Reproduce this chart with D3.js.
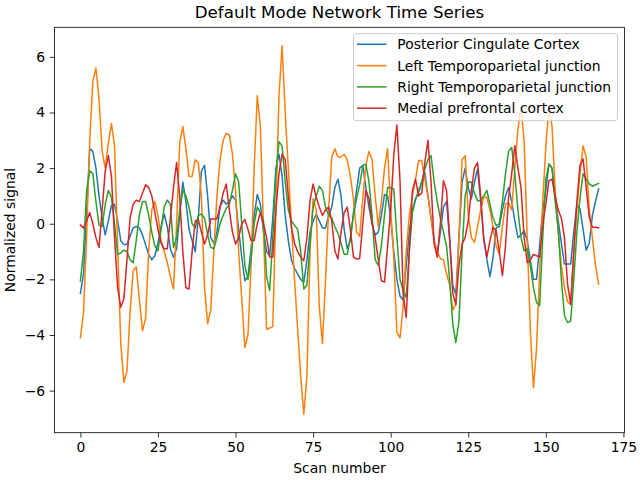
<!DOCTYPE html>
<html><head><meta charset="utf-8">
<script src="https://cdn.jsdelivr.net/npm/d3@7"></script>
<style>body{margin:0;background:#fff}svg text{font-family:"DejaVu Sans",sans-serif}</style>
</head><body><svg id="c" width="640" height="480"></svg>
<script>
const seriesNames = ["Posterior Cingulate Cortex","Left Temporoparietal junction","Right Temporoparietal junction","Medial prefrontal cortex"];
const colors = ["#1f77b4","#ff7f0e","#2ca02c","#d62728"];
const xTicks = [0,25,50,75,100,125,150,175];
const yTicks = [-6,-4,-2,0,2,4,6];
const pcc = [-2.5,-1.8,0.4,2.7,2.6,2.0,1.0,0.2,-0.4,0.1,0.65,0.7,0.1,-0.6,-0.75,-0.75,-0.45,-0.15,-0.1,-0.15,
-0.4,-0.75,-1.1,-1.3,-1.15,-0.7,-0.1,0.35,-0.1,-0.9,-1.2,-0.9,0.3,1.5,0.8,-0.2,-0.6,-1.0,0.2,1.9,
2.1,1.0,-0.5,-0.7,-0.3,0.6,0.85,0.7,0.8,1.0,0.85,-0.2,-1.2,-2.05,-1.9,-0.9,0.3,1.05,0.7,-0.3,
-1.0,-1.15,0.2,2.0,2.5,1.7,0.3,-0.6,-1.3,-1.6,-1.8,-2.0,-2.1,-1.3,-0.3,0.1,0.35,0.1,-0.15,-0.15,
0.3,0.6,1.3,1.6,1.0,-0.2,-0.9,-0.6,0.4,1.2,2.0,2.1,1.3,0.6,0.0,-0.4,-0.3,0.3,1.05,1.0,
0.2,-1.0,-2.0,-2.6,-2.75,-1.5,-0.3,0.5,0.9,1.1,1.5,1.85,1.0,0.2,-0.6,-1.1,-0.3,0.6,0.8,-0.6,
-2.2,-2.55,-0.5,1.5,2.0,1.3,0.9,1.5,1.97,0.8,-0.5,-1.3,-1.9,-1.2,-0.15,-0.1,0.5,1.0,1.3,0.8,
0.1,-0.5,-0.4,-0.25,-0.6,-1.3,-2.0,-2.0,-0.8,0.5,1.2,2.15,2.0,1.0,0.1,-0.7,-1.45,-1.45,-1.45,-0.3,
0.7,0.55,-0.2,-0.95,-0.7,0.3,0.8,1.25];
const ltpj = [-4.1,-3.2,-0.5,3.0,5.1,5.6,4.5,2.6,2.0,2.9,3.6,2.8,-0.8,-4.3,-5.7,-5.3,-3.2,-1.7,-1.55,-2.7,
-3.85,-3.4,-1.0,0.5,0.8,0.3,-0.6,-1.0,-1.4,-1.9,-2.35,0.0,2.9,3.5,2.7,1.7,1.7,2.3,2.2,1.0,
-2.3,-3.6,-3.1,-1.0,1.0,2.3,3.0,3.25,3.2,2.5,1.2,-1.0,-2.7,-4.45,-4.0,-1.5,2.0,4.6,3.5,-0.2,
-3.8,-3.75,-3.7,0.5,4.6,6.4,4.0,2.0,0.0,-2.0,-3.75,-5.5,-6.85,-5.5,-1.0,0.9,0.5,-3.0,-4.3,-2.0,
0.5,2.4,2.7,2.4,2.4,2.5,2.3,1.7,0.9,-0.3,-0.45,0.9,2.1,2.6,2.3,1.0,-0.1,0.8,2.0,2.7,
0.5,-1.2,-3.9,-4.1,-3.0,-1.0,0.3,1.0,1.6,2.27,2.27,1.6,1.0,0.2,-0.6,-1.0,-1.25,-1.3,-1.8,-2.2,
-3.1,-2.9,-0.5,2.3,2.45,0.3,-0.5,-0.67,-0.1,0.5,0.95,0.95,0.5,-0.15,-0.8,-1.1,-0.1,0.7,0.75,0.5,
2.0,3.4,4.2,3.0,-0.5,-3.8,-5.9,-4.5,-1.7,0.8,2.8,4.2,3.5,1.2,-0.3,-1.5,-2.3,-2.8,-2.9,-1.0,
0.5,1.8,2.8,2.4,0.5,-0.5,-1.5,-2.17];
const rtpj = [-2.05,-1.0,1.2,1.9,1.8,0.8,-0.05,-0.1,0.7,1.2,0.95,0.0,-1.1,-1.05,-0.95,-1.0,-1.3,-1.4,-0.6,0.3,
0.8,0.8,0.3,-0.3,-0.8,-0.97,-0.2,0.6,0.85,0.7,-0.85,-0.5,0.5,1.2,1.0,0.6,0.0,-0.15,0.3,0.35,
0.2,-0.4,-0.85,-0.9,-0.5,0.0,0.3,0.55,0.7,1.2,1.8,1.5,0.0,-1.5,-2.0,-1.3,0.0,0.6,0.4,0.1,
-1.9,-2.4,-0.5,1.8,2.95,2.8,1.5,0.5,0.1,-0.05,-0.2,-1.0,-2.35,-2.2,-0.7,0.6,1.0,1.35,1.2,0.6,
0.3,0.2,-0.1,-0.35,-0.7,-1.1,-1.1,-0.5,0.3,0.9,1.4,2.1,2.15,1.5,0.3,-1.3,-1.5,-0.8,0.3,1.3,
1.3,1.25,-0.5,-2.0,-2.4,-2.65,-1.0,0.4,0.85,1.2,1.5,1.97,2.3,2.45,1.5,0.8,0.2,-0.3,-0.8,-2.0,
-3.6,-4.27,-3.5,-1.0,1.0,1.5,1.5,1.1,0.83,0.83,1.0,1.2,0.7,0.2,-0.07,0.0,0.8,1.8,2.6,2.75,
1.8,0.5,-0.5,-0.97,-0.9,-1.5,-2.3,-2.83,-2.95,-0.5,1.6,2.15,2.0,0.8,-0.2,-2.0,-3.3,-3.55,-3.5,-2.0,
-0.3,0.9,1.8,1.6,1.43,1.35,1.4,1.45];
const mpfc = [-0.05,-0.15,0.1,0.4,0.0,-0.5,-0.85,0.5,1.9,2.45,1.7,-0.5,-2.3,-3.0,-2.7,-1.3,0.2,0.7,0.85,0.8,
1.1,1.4,1.3,1.0,0.4,-0.2,-0.7,-0.9,-0.9,0.2,1.3,2.2,1.0,-1.0,-2.3,-2.35,-1.0,0.1,0.15,-0.3,
-0.73,-0.4,0.17,0.17,0.17,0.6,1.1,1.43,0.5,-0.3,-0.73,-0.5,0.0,0.15,-0.2,-0.6,-0.6,0.0,0.4,0.0,
-0.5,-1.2,-1.2,0.5,1.8,2.5,2.3,1.0,-0.13,-0.7,-1.0,-1.2,-1.33,-0.5,0.83,1.43,0.95,0.6,0.3,0.5,
0.6,0.1,-0.97,-1.27,-0.3,0.4,0.6,-0.2,-1.2,-1.27,-1.25,0.0,1.2,0.9,0.0,-0.5,-1.3,-2.05,-2.1,-0.8,
0.5,2.5,3.55,1.55,-2.5,-3.37,-1.0,1.2,1.6,1.0,1.1,2.2,3.0,1.5,-0.73,-1.2,0.0,1.55,1.2,-0.5,
-2.5,-2.9,-1.5,-0.73,-0.5,0.1,1.2,2.0,2.2,1.0,-0.6,-1.2,-0.6,-0.13,-0.25,-1.0,-1.87,-0.8,0.95,1.8,
2.8,2.0,1.3,-0.5,-1.4,-1.3,-1.1,-1.15,-1.2,0.0,0.7,1.55,1.6,1.0,0.5,0.2,-0.5,-2.17,-2.9,-1.0,
0.8,2.1,2.33,1.3,0.23,-0.13,-0.13,-0.15];
const allSeries = [pcc, ltpj, rtpj, mpfc];

const svg = d3.select("#c");
const L = 54.5, R = 624.5, T = 27.3, B = 432.7;
const FS = "13.9px";
const n = pcc.length;
const ymin = d3.min(allSeries, s => d3.min(s)), ymax = d3.max(allSeries, s => d3.max(s));
const xm = (n - 1) * 0.05, ym = (ymax - ymin) * 0.05;
const x = d3.scaleLinear().domain([-xm, n - 1 + xm]).range([L, R]);
const y = d3.scaleLinear().domain([ymin - ym, ymax + ym]).range([B, T]);

const g = svg.append("g");
const line = d3.line().x((d, i) => x(i)).y(d => y(d));
allSeries.forEach((s, k) => {
  g.append("path").datum(s).attr("d", line).attr("fill", "none")
   .attr("stroke", colors[k]).attr("stroke-width", 1.5).attr("stroke-linejoin", "round").attr("stroke-linecap", "square");
});

const fmt = d => String(d).replace("-", "\u2212");
const xa = svg.append("g").attr("transform", `translate(0,${B})`)
  .call(d3.axisBottom(x).tickValues(xTicks).tickSize(4.9).tickPadding(4.5).tickFormat(fmt));
const ya = svg.append("g").attr("transform", `translate(${L},0)`)
  .call(d3.axisLeft(y).tickValues(yTicks).tickSize(4.9).tickPadding(4.5).tickFormat(fmt));
[xa, ya].forEach(a => {
  a.select(".domain").remove();
  a.selectAll("line").attr("stroke", "#000").attr("stroke-width", 0.8);
  a.selectAll("text").attr("font-size", FS).attr("fill", "#000").attr("font-family", "DejaVu Sans");
});
svg.append("rect").attr("x", L).attr("y", T).attr("width", R - L).attr("height", B - T)
  .attr("fill", "none").attr("stroke", "#000").attr("stroke-width", 0.8);

svg.append("text").attr("x", (L + R) / 2).attr("y", 18).attr("text-anchor", "middle")
  .attr("font-size", "16.7px").text("Default Mode Network Time Series");
svg.append("text").attr("x", (L + R) / 2).attr("y", 473).attr("text-anchor", "middle")
  .attr("font-size", FS).text("Scan number");
svg.append("text").attr("transform", `translate(15,${(T + B) / 2}) rotate(-90)`).attr("text-anchor", "middle")
  .attr("font-size", FS).text("Normalized signal");

const lg = svg.append("g");
lg.append("rect").attr("x", 353.5).attr("y", 33.7).attr("width", 264).attr("height", 87).attr("rx", 2.5)
  .attr("fill", "#fff").attr("fill-opacity", 0.8).attr("stroke", "#cccccc").attr("stroke-width", 1);
seriesNames.forEach((name, k) => {
  const yy = 44.3 + k * 21.3;
  lg.append("line").attr("x1", 357).attr("x2", 386.5).attr("y1", yy).attr("y2", yy)
    .attr("stroke", colors[k]).attr("stroke-width", 1.5);
  lg.append("text").attr("x", 397.3).attr("y", yy + 4.9).attr("font-size", FS).attr("fill", "#000").text(name);
});
</script></body></html>
